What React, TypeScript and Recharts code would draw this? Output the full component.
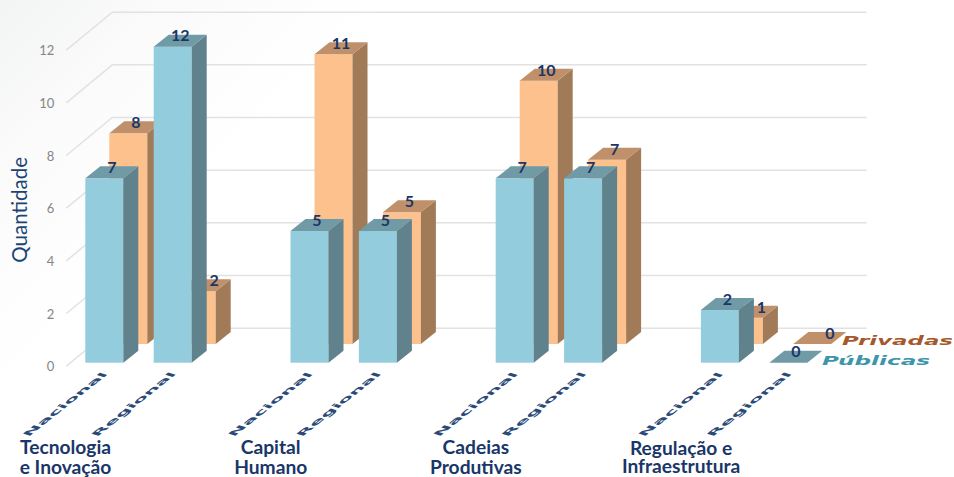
import { BarChart, Bar, XAxis, YAxis, CartesianGrid, LabelList, Legend } from "recharts";

const categories = ["Nacional", "Regional", "", "Nacional", "Regional", "", "Nacional", "Regional", "", "Nacional", "Regional"];
const publicas = [7, 12, null, 5, 5, null, 7, 7, null, 2, 0];
const privadas = [8, 2, null, 11, 5, null, 10, 7, null, 1, 0];
const groups = [
  ["Tecnologia", "e Inovação"],
  ["Capital", "Humano"],
  ["Cadeias", "Produtivas"],
  ["Regulação e", "Infraestrutura"],
];
const yTicks = [0, 2, 4, 6, 8, 10, 12];

const chartData = categories.map((name, i) => ({
  name,
  publicas: publicas[i],
  privadas: privadas[i],
}));

const FRONT = { front: "#93cddd", side: "#5f828c", top: "#6f9aa6" };
const BACK = { front: "#fcc18c", side: "#a17b58", top: "#bf9069" };
const BACK_DX = 24;
const BACK_DY = -18.7;
const DEPTH_X = 15;
const DEPTH_Y = 12;
const NAVY = "#1a3668";
const FONT = "Lato, 'Open Sans', sans-serif";

function Box({ x, y, width, height, colors, value }: any) {
  if (value === null || value === undefined) return null;
  const r = x + width;
  const b = y + height;
  return (
    <g>
      {height > 0 && <rect x={x} y={y} width={width} height={height} fill={colors.front} />}
      {height > 0 && (
        <polygon points={`${r},${y} ${r + DEPTH_X},${y - DEPTH_Y} ${r + DEPTH_X},${b - DEPTH_Y} ${r},${b}`} fill={colors.side} />
      )}
      <polygon points={`${x},${y} ${x + DEPTH_X},${y - DEPTH_Y} ${r + DEPTH_X},${y - DEPTH_Y} ${r},${y}`} fill={colors.top} />
    </g>
  );
}

function FrontBar(props: any) {
  return <Box {...props} colors={FRONT} value={props.publicas} />;
}

function BackBar(props: any) {
  return (
    <g transform={`translate(${BACK_DX},${BACK_DY})`}>
      <Box {...props} colors={BACK} value={props.privadas} />
    </g>
  );
}

function valueText(cx: number, cy: number, value: number) {
  return (
    <text x={cx} y={cy} textAnchor="middle" dominantBaseline="central" fontFamily={FONT} fontWeight={700} fontSize={16} fill={NAVY}>
      {value}
    </text>
  );
}

function FrontLabel({ x, y, width, value }: any) {
  if (value === null || value === undefined) return null;
  return valueText(x + width / 2 + 7.5, y - 12, value);
}

function BackLabel({ x, y, width, value, index }: any) {
  if (value === null || value === undefined) return null;
  // the label slides right when the front bar hides this one
  const hidden = value < (publicas[index] ?? 0);
  return valueText(x + BACK_DX + width / 2 + 7.5 + (hidden ? 10 : 0), y + BACK_DY - 11.5, value);
}

function GridLine({ x1, y1, x2 }: any) {
  const startX = x1 - 4;
  const startY = y1 + 3.5;
  const wallX = startX + 46;
  const wallY = startY - 38;
  return (
    <polyline
      points={`${startX},${startY} ${wallX},${wallY} ${x2 + 44},${wallY}`}
      fill="none"
      stroke="#e2e2e2"
      strokeWidth={1.5}
    />
  );
}

function YTick({ x, y, payload }: any) {
  return (
    <text x={x} y={y + 3.5} textAnchor="end" dominantBaseline="central" fontFamily={FONT} fontSize={13} fill="#858585">
      {payload.value}
    </text>
  );
}

function XTick({ x, y, payload, index }: any) {
  const groupLines = index % 3 === 0 ? groups[index / 3] : null;
  const last = index === 9;
  return (
    <g>
      {payload.value && (
        <g transform={`translate(${x + 4},${y + 5}) matrix(1,-0.79,0.8,0.25,0,0)`}>
          <text textAnchor="end" fontFamily={"'DejaVu Sans', sans-serif"} fontWeight={700} fontSize={12} fill="#2a4a78" textLength={80} lengthAdjust="spacingAndGlyphs">
            {payload.value}
          </text>
        </g>
      )}
      {groupLines &&
        groupLines.map((line, i) => (
          <text
            key={line}
            x={x - 39}
            y={last ? 455 + i * 18.3 : 454 + i * 19.5}
            textAnchor="middle"
            fontFamily={FONT}
            fontWeight={700}
            fontSize={19.2}
            fill={NAVY}
          >
            {line}
          </text>
        ))}
    </g>
  );
}

function LegendBox({ payload }: any) {
  return (
    <svg width={140} height={50} style={{ display: "block", overflow: "visible" }}>
      {(payload || []).map((item: any) => {
        const isBack = item.dataKey === "privadas";
        return (
          <text
            key={item.value}
            x={isBack ? 20 : 0}
            y={isBack ? 13 : 33}
            fontFamily={"'DejaVu Sans', sans-serif"}
            fontStyle="italic"
            fontWeight={700}
            fontSize={12}
            fill={isBack ? "#a5582b" : "#3c95aa"}
            textLength={isBack ? 111 : 108}
            lengthAdjust="spacingAndGlyphs"
          >
            {item.value}
          </text>
        );
      })}
    </svg>
  );
}

export default function App() {
  return (
    <div
      style={{
        position: "absolute",
        left: 0,
        top: 0,
        width: 954,
        height: 477,
        background: "linear-gradient(135deg, #f3f4f4 0, #fbfbfb 130px, #ffffff 280px)",
      }}
    >
      <BarChart
        width={954}
        height={477}
        data={chartData}
        margin={{ top: 46.7, right: 131.3, bottom: 0, left: 0 }}
        barSize={38}
        barGap={-38}
      >
        <CartesianGrid vertical={false} horizontal={(props: any) => <GridLine key={props.y1} {...props} />} />
        <XAxis
          dataKey="name"
          interval={0}
          axisLine={false}
          tickLine={false}
          height={114.3}
          tickMargin={0}
          tick={(props: any) => <XTick {...props} />}
        />
        <YAxis
          domain={[0, 12]}
          ticks={yTicks}
          width={70.3}
          axisLine={false}
          tickLine={false}
          tickMargin={10}
          interval={0}
          tick={(props: any) => <YTick {...props} />}
          label={{
            value: "Quantidade",
            angle: -90,
            position: "insideLeft",
            offset: 20,
            dy: 58,
            fontFamily: FONT,
            fontSize: 20.5,
            fill: "#1b4573",
          }}
        />
        <Bar dataKey="privadas" name="Privadas" isAnimationActive={false} fill={BACK.front} shape={(p: any) => <BackBar {...p} />}>
          <LabelList dataKey="privadas" content={(p: any) => <BackLabel {...p} />} />
        </Bar>
        <Bar dataKey="publicas" name="Públicas" isAnimationActive={false} fill={FRONT.front} shape={(p: any) => <FrontBar {...p} />}>
          <LabelList dataKey="publicas" content={(p: any) => <FrontLabel {...p} />} />
        </Bar>
        <Legend
          layout="horizontal"
          verticalAlign="middle"
          content={(p: any) => <LegendBox {...p} />}
          wrapperStyle={{ left: 822, top: 332, width: 140, height: 50 }}
        />
      </BarChart>
    </div>
  );
}
